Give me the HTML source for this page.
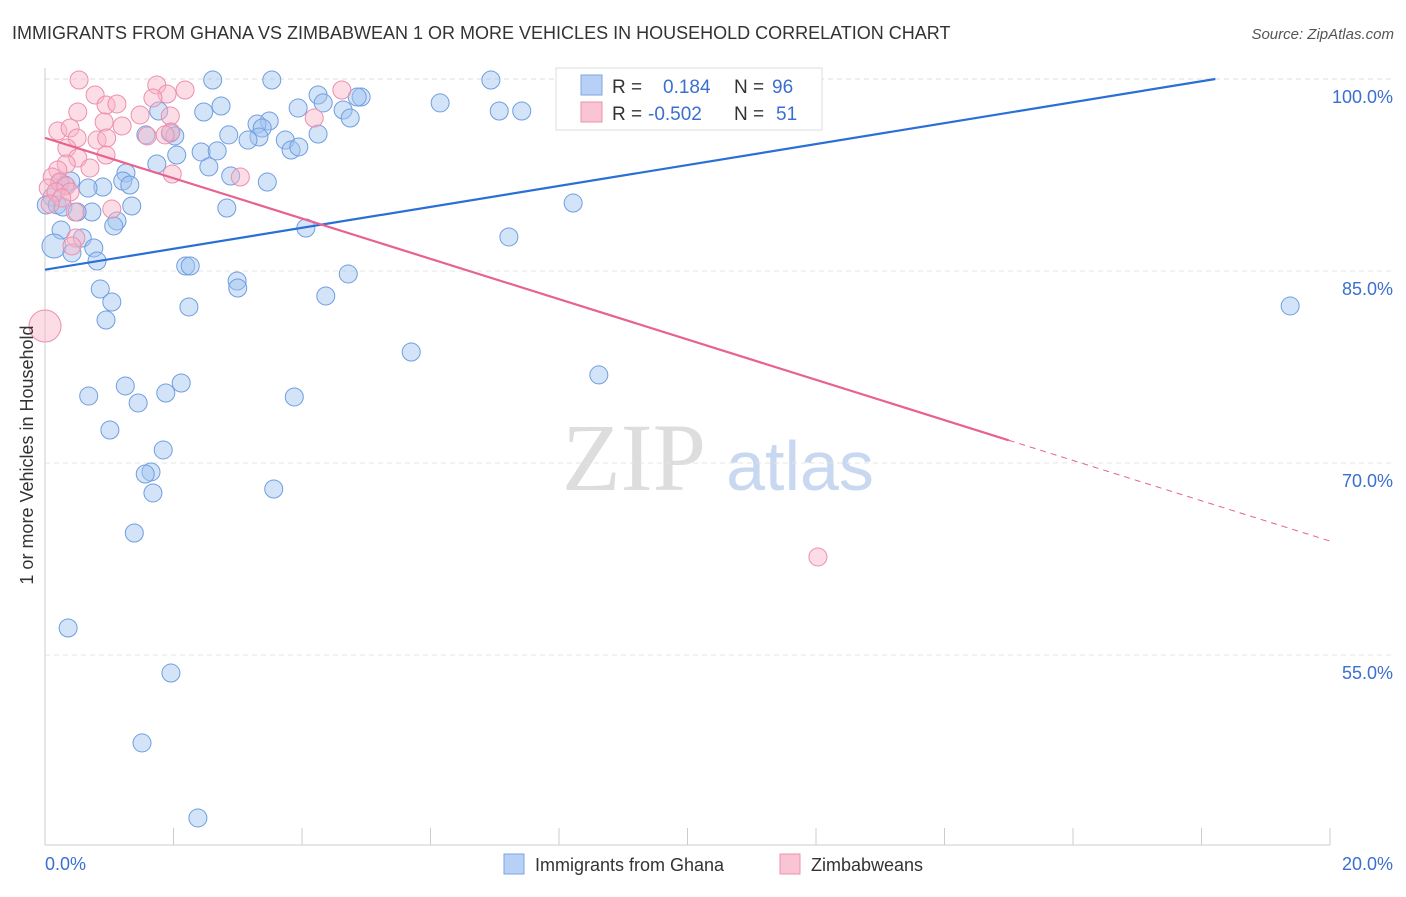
<!DOCTYPE html>
<html><head><meta charset="utf-8"><style>
body{margin:0;background:#fff;font-family:"Liberation Sans",sans-serif}
</style></head><body>
<svg id="chart" width="1406" height="892" xmlns="http://www.w3.org/2000/svg">
<text x="12" y="39" font-size="18" fill="#333">IMMIGRANTS FROM GHANA VS ZIMBABWEAN 1 OR MORE VEHICLES IN HOUSEHOLD CORRELATION CHART</text>
<text x="1394" y="39" font-size="15" fill="#555" font-style="italic" text-anchor="end">Source: ZipAtlas.com</text>
<text x="634" y="490" font-size="96" fill="#ddd" font-family="Liberation Serif,serif" text-anchor="middle">ZIP</text>
<text x="800" y="490" font-size="70" fill="#c8d8f0" text-anchor="middle">atlas</text>
<g id="grid"></g><g id="axes"></g><g id="pts"></g><g id="lines"></g>
<text transform="translate(33,455) rotate(-90)" font-size="18" fill="#333" text-anchor="middle">1 or more Vehicles in Household</text>
<g>
<rect x="556" y="68" width="266" height="62" fill="#fff" stroke="#ddd"/>
<rect x="581" y="75" width="21" height="20" fill="#b8d0f5" stroke="#7ea6e0"/>
<rect x="581" y="102" width="21" height="20" fill="#f9c4d4" stroke="#ec92ae"/>
<text x="612" y="93" font-size="19" fill="#333">R = </text><text x="663" y="93" font-size="19" fill="#3a6fd0">0.184</text>
<text x="734" y="93" font-size="19" fill="#333">N = </text><text x="772" y="93" font-size="19" fill="#3a6fd0">96</text>
<text x="612" y="120" font-size="19" fill="#333">R = </text><text x="648" y="120" font-size="19" fill="#3a6fd0">-0.502</text>
<text x="734" y="120" font-size="19" fill="#333">N = </text><text x="776" y="120" font-size="19" fill="#3a6fd0">51</text>
</g>
<g>
<rect x="504" y="854" width="20" height="20" fill="#b8d0f5" stroke="#7ea6e0"/>
<text x="535" y="871" font-size="18" fill="#333">Immigrants from Ghana</text>
<rect x="780" y="854" width="20" height="20" fill="#f9c4d4" stroke="#ec92ae"/>
<text x="811" y="871" font-size="18" fill="#333">Zimbabweans</text>
</g>
</svg>
<script>
const blueX=[2.61,3.53,6.94,9.18,4.25,4.92,4.86,6.15,2.74,3.94,4.33,4.64,4.75,2.47,1.77,7.07,7.42,3.49,3.30,3.38,1.95,1.57,2.02,2.86,4.25,3.33,3.16,3.74,3.83,3.95,2.43,2.68,2.05,1.74,2.55,2.89,1.26,1.21,1.32,3.46,0.90,0.67,0.40,0.23,0.31,0.11,0.02,0.19,0.28,1.35,2.83,8.22,0.73,0.50,1.12,1.07,0.25,4.06,0.14,0.58,0.76,0.42,0.81,7.22,2.19,2.26,2.99,3.00,4.72,0.86,1.04,4.37,2.24,0.95,19.38,5.70,8.62,1.25,2.12,0.68,1.88,3.88,1.45,1.01,1.84,1.65,1.56,1.68,3.56,1.39,0.36,1.96,1.51,2.38];
const blueY=[99.92,99.92,99.92,99.92,98.75,98.59,98.59,98.13,97.89,97.73,98.13,97.58,96.95,97.42,97.50,97.50,97.50,96.72,96.48,96.17,95.78,95.63,95.55,95.63,95.70,95.47,95.23,95.23,94.45,94.69,94.30,94.38,94.06,93.36,93.13,92.42,92.66,92.03,91.72,91.95,91.56,91.48,92.03,91.88,91.72,90.78,90.16,90.16,90.00,90.08,89.92,90.31,89.61,89.61,88.91,88.52,88.20,88.36,86.95,87.58,86.80,86.41,85.78,87.66,85.39,85.39,84.22,83.67,84.77,83.59,82.58,83.05,82.19,81.17,82.27,78.67,76.88,76.02,76.25,75.23,75.47,75.16,74.69,72.58,71.02,69.30,69.14,67.66,67.97,64.53,57.11,53.59,48.13,42.27];
const pinkX=[0.53,2.18,1.74,4.62,0.78,0.95,0.51,1.12,1.95,1.48,0.92,1.20,1.96,0.20,0.39,1.59,1.87,0.50,0.81,0.96,0.34,0.95,0.51,0.33,0.70,0.20,1.98,3.04,0.11,0.23,0.33,0.05,0.17,0.39,0.26,0.08,1.04,0.47,0.48,0.42,4.19,0,12.03,1.90,1.68];
const pinkY=[99.92,99.14,99.53,99.14,98.75,97.97,97.42,98.05,97.11,97.19,96.64,96.33,95.86,95.94,96.17,95.55,95.63,95.39,95.23,95.39,94.61,94.06,93.83,93.36,93.05,92.89,92.58,92.34,92.34,91.95,91.64,91.48,91.17,91.17,90.70,90.23,89.84,89.61,87.58,86.95,96.95,80.70,62.66,98.83,98.52];
const blueBig=[58], pinkBig=[41];
const yTicks=[100,85,70,55];
const xTickVals=[0,2,4,6,8,10,12,14,16,18,20];
const blueTrend=[85.1,0.818], pinkTrend=[95.4,-1.575], pinkSolidEnd=15;
const X=v=>45+v*64.25, Y=v=>79+(100-v)*12.8;
const NS="http://www.w3.org/2000/svg";
function mk(p,t,a){const e=document.createElementNS(NS,t);for(const k in a)e.setAttribute(k,a[k]);document.getElementById(p).appendChild(e);return e;}
mk('grid','line',{x1:45,x2:1392,y1:Y(100),y2:Y(100),stroke:'#ddd','stroke-dasharray':'5,4'});
yTicks.forEach(t=>{
 if(t<100){const g=mk('grid','line',{x1:45,x2:1392,y1:Y(t),y2:Y(t),stroke:'#e4e4e4','stroke-dasharray':'5,4'});
 
 }
 const l=mk('axes','text',{x:1393,y:Y(t)+24,'font-size':18,fill:'#3a6fd0','text-anchor':'end'});l.textContent=t.toFixed(1)+'%';
 
 
});
mk('axes','line',{x1:45,x2:45,y1:68,y2:845,stroke:'#ccc'});
mk('axes','line',{x1:45,x2:1330,y1:845,y2:845,stroke:'#ccc'});
xTickVals.forEach(v=>{const t=mk('axes','line',{x1:X(v),x2:X(v),y1:828,y2:845,stroke:'#ccc'});
 
 });
const a=mk('axes','text',{x:45,y:870,'font-size':18,fill:'#3a6fd0'});a.textContent='0.0%';


const b=mk('axes','text',{x:1393,y:870,'font-size':18,fill:'#3a6fd0','text-anchor':'end'});b.textContent='20.0%';


blueX.forEach((x,i)=>{const c=mk('pts','circle',{cx:X(x),cy:Y(blueY[i]),r:blueBig.includes(i)?12:9,fill:'rgba(160,195,240,0.45)',stroke:'#6f9ee0','stroke-width':1});
 
 });
pinkX.forEach((x,i)=>{const c=mk('pts','circle',{cx:X(x),cy:Y(pinkY[i]),r:pinkBig.includes(i)?16:9,fill:'rgba(248,180,200,0.45)',stroke:'#ec8fae','stroke-width':1});
 
 });
const bEnd=(100-blueTrend[0])/blueTrend[1];
const bl=mk('lines','line',{x1:X(0),y1:Y(blueTrend[0]),x2:X(bEnd),y2:Y(100),stroke:'#2a6fd6','stroke-width':2.2});


const pl=mk('lines','line',{x1:X(0),y1:Y(pinkTrend[0]),x2:X(pinkSolidEnd),y2:Y(pinkTrend[0]+pinkTrend[1]*pinkSolidEnd),stroke:'#e8628e','stroke-width':2.2});


const pd=mk('lines','line',{x1:X(pinkSolidEnd),y1:Y(pinkTrend[0]+pinkTrend[1]*pinkSolidEnd),x2:X(20),y2:Y(pinkTrend[0]+pinkTrend[1]*20),stroke:'#e8628e','stroke-width':1,'stroke-dasharray':'6,5'});


</script>
</body></html>
